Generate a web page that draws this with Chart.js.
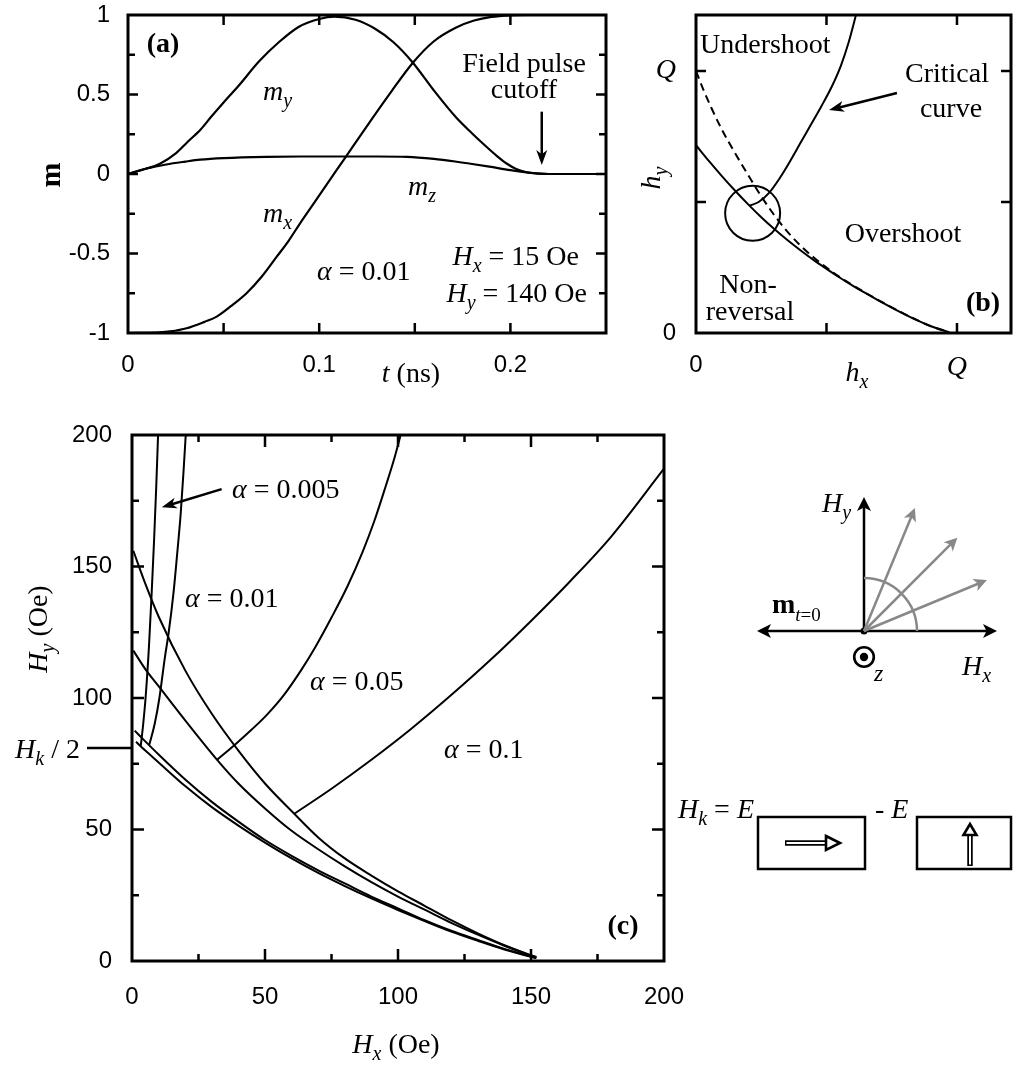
<!DOCTYPE html>
<html><head><meta charset="utf-8">
<script src="https://cdn.jsdelivr.net/npm/chart.js@4.4.1/dist/chart.umd.min.js"></script>
<style>
html,body{margin:0;padding:0;background:#fff;}
#wrap{position:relative;width:1013px;height:1066px;overflow:hidden;background:#fff;}
canvas{position:absolute;}
svg{position:absolute;left:0;top:0;}
</style></head><body>
<div id="wrap">
<canvas id="ca" width="612" height="400" style="left:0;top:0"></canvas>
<canvas id="cb" width="401" height="400" style="left:612px;top:0"></canvas>
<canvas id="cc" width="700" height="656" style="left:0;top:410px"></canvas>
<svg width="1013" height="1066" viewBox="0 0 1013 1066">
  <g stroke="#000" stroke-width="2.5" fill="none">
    <line x1="762" y1="631" x2="992" y2="631"/>
    <line x1="864" y1="631" x2="864" y2="502"/>
  </g>
  <g fill="#000">
    <polygon points="997,631 983,624 986.5,631 983,638"/>
    <polygon points="757,631 771,624 767.5,631 771,638"/>
    <polygon points="864,497 857,511 864,507.5 871,511"/>
    <circle cx="864" cy="631" r="3.5"/>
    <circle cx="864" cy="657" r="4.2"/>
  </g>
  <circle cx="864" cy="657" r="9.8" stroke="#000" stroke-width="2.6" fill="none"/>
  <g stroke="#888" stroke-width="2.5" fill="none">
    <path d="M 864 578 A 53 53 0 0 1 917 631"/>
  </g>
  <g transform="translate(864,631) rotate(-67.5)">
    <line x1="0" y1="0" x2="128" y2="0" stroke="#888" stroke-width="2.5"/>
    <polygon points="133,0 120,-6.5 123.5,0 120,6.5" fill="#888"/>
  </g>
  <g transform="translate(864,631) rotate(-45)">
    <line x1="0" y1="0" x2="127" y2="0" stroke="#888" stroke-width="2.5"/>
    <polygon points="132,0 119,-6.5 122.5,0 119,6.5" fill="#888"/>
  </g>
  <g transform="translate(864,631) rotate(-22.5)">
    <line x1="0" y1="0" x2="128" y2="0" stroke="#888" stroke-width="2.5"/>
    <polygon points="133,0 120,-6.5 123.5,0 120,6.5" fill="#888"/>
  </g>
  <g font-family="Liberation Serif" fill="#000">
    <text x="822" y="512" font-size="28" font-style="italic">H<tspan font-size="20" dy="7">y</tspan></text>
    <text x="772" y="613" font-size="28" font-weight="bold">m<tspan font-size="19" font-weight="normal" dy="8" font-style="italic">t</tspan><tspan font-size="19" font-weight="normal">=0</tspan></text>
    <text x="962" y="675" font-size="28" font-style="italic">H<tspan font-size="20" dy="7">x</tspan></text>
    <text x="874" y="681" font-size="24" font-style="italic">z</text>
    <text x="754" y="818" font-size="28" text-anchor="end"><tspan font-style="italic">H</tspan><tspan font-style="italic" font-size="20" dy="7">k</tspan><tspan dy="-7"> = </tspan><tspan font-style="italic">E</tspan></text>
    <text x="875" y="818" font-size="28">- <tspan font-style="italic">E</tspan></text>
  </g>
  <g stroke="#000" stroke-width="2.5" fill="none">
    <rect x="758" y="817" width="107" height="52"/>
    <rect x="917" y="817" width="94" height="52"/>
  </g>
  <line x1="785" y1="843" x2="827" y2="843" stroke="#000" stroke-width="5.5"/>
  <line x1="786.5" y1="843" x2="828" y2="843" stroke="#fff" stroke-width="2"/>
  <polygon points="826,836 840,843 826,850" fill="#fff" stroke="#000" stroke-width="2.6"/>
  <line x1="970" y1="866" x2="970" y2="834" stroke="#000" stroke-width="5.5"/>
  <line x1="970" y1="864.5" x2="970" y2="833" stroke="#fff" stroke-width="2"/>
  <polygon points="963.5,835 970,824 976.5,835" fill="#fff" stroke="#000" stroke-width="2.6"/>
</svg>
</div>
<script>
// ================= DATA =================
// Panel (a): magnetisation components vs time t (ns)
const aTimeX = [0,0.015,0.022,0.0307,0.04,0.0464,0.054,0.062,0.07,0.0778,0.084,0.09,0.096,0.102,0.108,0.114,0.1266,0.1378,0.149,0.16,0.1714,0.181,0.19,0.2,0.21,0.25];
const aMx    = [-1,-0.998,-0.99,-0.97,-0.93,-0.897,-0.83,-0.75,-0.645,-0.52,-0.42,-0.31,-0.205,-0.1,0.005,0.11,0.33,0.52,0.70,0.835,0.92,0.965,0.988,0.998,1,1];
const aTimeY = [0,0.008,0.0167,0.025,0.031,0.038,0.0435,0.05,0.0575,0.0687,0.079,0.0892,0.1,0.108,0.119,0.129,0.1387,0.149,0.16,0.172,0.18,0.1876,0.193,0.198,0.203,0.2085,0.215,0.22,0.25];
const aMy    = [0,0.028,0.065,0.13,0.2,0.28,0.36,0.45,0.55,0.71,0.83,0.925,0.975,0.99,0.97,0.915,0.83,0.70,0.525,0.35,0.255,0.17,0.113,0.066,0.032,0.011,0.002,0,0];
const aTimeZ = [0,0.01,0.02,0.03,0.0377,0.05,0.0725,0.09,0.114,0.13,0.146,0.16,0.172,0.18,0.189,0.2,0.2085,0.215,0.22,0.25];
const aMz    = [0,0.035,0.06,0.078,0.09,0.1,0.108,0.11,0.11,0.11,0.108,0.095,0.077,0.063,0.046,0.024,0.01,0.002,0,0];
const aXTickLabels = [0, 0.1, 0.2];
const aYTickLabels = [-1, -0.5, 0, 0.5, 1];
const aCutoffT = 0.2164;

// Panel (b): reduced fields h (units of Q)
const bSolidX = [0,0.05,0.1,0.15,0.2,0.25,0.3,0.35,0.4,0.45,0.5,0.55,0.6,0.65,0.7,0.75,0.8,0.85,0.9,0.97];
const bSolidY = [0.717,0.656,0.598,0.543,0.491,0.442,0.397,0.355,0.316,0.279,0.245,0.212,0.181,0.152,0.124,0.097,0.071,0.047,0.026,0.003];
const bDashX  = [0,0.03,0.06,0.1,0.15,0.2,0.25,0.3,0.35,0.4,0.45,0.5,0.55,0.6,0.65,0.7,0.75,0.8,0.85,0.9,0.97];
const bDashY  = [1.0,0.925,0.857,0.775,0.686,0.603,0.522,0.45,0.387,0.334,0.289,0.25,0.214,0.183,0.153,0.125,0.098,0.072,0.048,0.026,0.003];
const bCritX  = [0.205,0.24,0.28,0.32,0.36,0.4,0.44,0.48,0.52,0.555,0.585,0.612];
const bCritY  = [0.486,0.5,0.535,0.59,0.655,0.725,0.795,0.865,0.94,1.02,1.11,1.21];
const bTickValues = [0, 1];
const bTickLabels = ['0', 'Q'];
const bCirclePt = [0.217, 0.457];

// Panel (c): switching boundaries, Hx / Hy in Oe
const cAlphas = ['0.005', '0.01', '0.05', '0.1'];
const cLow005X = [1.5,5,10,20,30,40,50,60,70,80,90,100,110,120,130,140,150,152];
const cLow005Y = [83.4,80,75.5,66.5,58.5,51.5,45,39,33.5,28.5,23.8,19.4,15.2,11.2,7.7,4.4,1.6,1.1];
const cLow01X  = [1,5,10,20,30,40,50,60,70,80,90,100,110,120,130,140,150,152];
const cLow01Y  = [87.6,83.5,78.5,69,60.5,53,46,40,34.5,29.5,24.5,20,15.5,11.5,8,4.6,1.7,1.2];
const cLow05X  = [0.5,5,10,20,32,40,50,60,70,80,90,100,110,120,130,140,150,152];
const cLow05Y  = [118,111,104.5,91.5,76.5,67.5,58,49.5,42.5,36,30,24.5,19.5,14.5,10,5.8,2,1.4];
const cLow1X   = [0.5,5,10,20,30,40,50,61,70,80,90,100,110,120,130,140,150,152];
const cLow1Y   = [156,143.5,131,110.5,94,80,67.5,56,47,39,32.5,26.5,21,15.5,10.5,6,2.2,1.5];
const cCrit005X = [3.3,4.2,5.1,6.4,7.4,8.3,9.1,9.8];
const cCrit005Y = [81.8,90,100,120,140,160,180,200];
const cCrit01X  = [6.5,8.5,10.3,12.3,13.8,15.6,17,18.3,19.3,20.2];
const cCrit01Y  = [82.2,90,100,115,125,140,155,170,185,200];
const cCrit05X  = [32,39,45,50.6,57,63.6,69,75,81,86.7,91,95.4,98.3,101];
const cCrit05Y  = [76.5,82.5,88,93.5,101,110.6,119.5,130.6,142.5,155.6,167,180.6,190,200];
const cCrit1X   = [61,75,90,105,120,135,150,165,180,200];
const cCrit1Y   = [56,65.5,76.5,88.3,101.1,114.7,129.3,144.7,161.2,187.2];
const cTickLabels = [0, 50, 100, 150, 200];
const cHkHalf = 81;

// ================= HELPERS =================
const SANS = 'Liberation Sans', SERIF = 'Liberation Serif';
const FS = 28, FSUB = 20;
const IT = `italic ${FS}px "${SERIF}"`, RM = `${FS}px "${SERIF}"`, BD = `bold ${FS}px "${SERIF}"`, ITS = `italic ${FSUB}px "${SERIF}"`;
const tickFont = {family: SANS, size: 24};

function ds(xs, ys, extra) {
  return Object.assign({
    data: xs.map((x, i) => ({x: x, y: ys[i]})),
    showLine: true, borderColor: '#000', backgroundColor: '#000', borderWidth: 2.2,
    pointRadius: 0, pointHoverRadius: 0, fill: false, cubicInterpolationMode: 'monotone'
  }, extra || {});
}
function axis(min, max, vals, padding, fit, font, cb) {
  return {
    type: 'linear', min: min, max: max,
    grid: {display: false, drawTicks: false}, border: {display: false},
    ticks: {color: '#000', font: font || tickFont, padding: padding, maxRotation: 0, autoSkip: false,
            callback: cb || (v => String(v))},
    afterBuildTicks: s => { s.ticks = vals.map(v => ({value: v})); },
    afterFit: s => {
      if (s.isHorizontal()) { s.height = fit; s.paddingLeft = 0; s.paddingRight = 0; }
      else { s.width = fit; s.paddingTop = 0; s.paddingBottom = 0; }
    }
  };
}
function txt(ctx, parts, x, y, align, rot) {
  ctx.save();
  ctx.translate(x, y);
  if (rot) ctx.rotate(rot);
  ctx.textBaseline = 'alphabetic'; ctx.fillStyle = '#000'; ctx.textAlign = 'left';
  let w = 0;
  for (const p of parts) { ctx.font = p[1]; w += ctx.measureText(p[0]).width; }
  let cx = align === 'left' ? 0 : align === 'right' ? -w : -w / 2;
  for (const p of parts) { ctx.font = p[1]; ctx.fillText(p[0], cx, p[2] || 0); cx += ctx.measureText(p[0]).width; }
  ctx.restore();
}
function arrow(ctx, x1, y1, x2, y2, hl, hw) {
  hl = hl || 15; hw = hw || 5.5;
  const a = Math.atan2(y2 - y1, x2 - x1), c = Math.cos(a), s = Math.sin(a);
  ctx.save(); ctx.strokeStyle = '#000'; ctx.fillStyle = '#000'; ctx.lineWidth = 2.5;
  ctx.beginPath(); ctx.moveTo(x1, y1); ctx.lineTo(x2 - c * hl * 0.7, y2 - s * hl * 0.7); ctx.stroke();
  ctx.beginPath(); ctx.moveTo(x2, y2);
  ctx.lineTo(x2 - hl * c + hw * s, y2 - hl * s - hw * c);
  ctx.lineTo(x2 - hl * 0.72 * c, y2 - hl * 0.72 * s);
  ctx.lineTo(x2 - hl * c - hw * s, y2 - hl * s + hw * c);
  ctx.closePath(); ctx.fill();
  ctx.restore();
}
function frameTicks(chart, xt, yt) {
  const {ctx, chartArea: a, scales: {x, y}} = chart;
  ctx.save(); ctx.strokeStyle = '#000'; ctx.lineWidth = 2.5; ctx.lineCap = 'butt';
  ctx.beginPath();
  for (const t of xt) { const p = x.getPixelForValue(t[0]);
    ctx.moveTo(p, a.bottom); ctx.lineTo(p, a.bottom - t[1]); ctx.moveTo(p, a.top); ctx.lineTo(p, a.top + t[1]); }
  for (const t of yt) { const p = y.getPixelForValue(t[0]);
    ctx.moveTo(a.left, p); ctx.lineTo(a.left + t[1], p); ctx.moveTo(a.right, p); ctx.lineTo(a.right - t[1], p); }
  ctx.stroke();
  ctx.lineWidth = 3; ctx.strokeRect(a.left, a.top, a.right - a.left, a.bottom - a.top);
  ctx.restore();
}
const baseOpts = {responsive: false, animation: false, devicePixelRatio: 1, events: [],
  plugins: {legend: {display: false}, tooltip: {enabled: false}}};

// ================= PANEL (a) =================
new Chart(document.getElementById('ca'), {
  type: 'scatter',
  data: {datasets: [ds(aTimeX, aMx), ds(aTimeY, aMy), ds(aTimeZ, aMz)]},
  options: Object.assign({}, baseOpts, {
    layout: {autoPadding: false, padding: {left: 0, top: 15, right: 6, bottom: 0}},
    scales: {x: axis(0, 0.25, aXTickLabels, 18, 67), y: axis(-1, 1, aYTickLabels, 18, 128)}
  }),
  plugins: [{id: 'pa', afterDatasetsDraw(chart) {
    const ctx = chart.ctx, {x, y} = chart.scales;
    const xt = [0.05, 0.1, 0.15, 0.2].map(v => [v, 10]);
    const yt = [-0.75, -0.5, -0.25, 0, 0.25, 0.5, 0.75].map(v => [v, Math.abs(v * 2 - Math.round(v * 2)) < 1e-6 ? 10 : 7]);
    frameTicks(chart, xt, yt);
    txt(ctx, [['(a)', BD]], 163, 52, 'center');
    txt(ctx, [['m', IT], ['y', ITS, 7]], 263, 100, 'left');
    txt(ctx, [['m', IT], ['x', ITS, 7]], 263, 222, 'left');
    txt(ctx, [['m', IT], ['z', ITS, 7]], 408, 195, 'left');
    txt(ctx, [['\u03B1', IT], [' = 0.01', RM]], 317, 280, 'left');
    txt(ctx, [['H', IT], ['x', ITS, 7], [' = 15 Oe', RM]], 579, 265, 'right');
    txt(ctx, [['H', IT], ['y', ITS, 7], [' = 140 Oe', RM]], 587, 302, 'right');
    txt(ctx, [['Field pulse', RM]], 524, 72, 'center');
    txt(ctx, [['cutoff', RM]], 524, 98, 'center');
    arrow(ctx, x.getPixelForValue(aCutoffT), y.getPixelForValue(0.392), x.getPixelForValue(aCutoffT), y.getPixelForValue(0.057));
    txt(ctx, [['m', `bold 30px "${SERIF}"`]], 60, 175, 'center', -Math.PI / 2);
    txt(ctx, [['t', IT], [' (ns)', RM]], 411, 382, 'center');
  }}]
});

// ================= PANEL (b) =================
const bOX = 612;
const qFont = c => (c.tick && c.tick.value === 1) ? {family: SERIF, style: 'italic', size: 28} : {family: SANS, size: 24};
new Chart(document.getElementById('cb'), {
  type: 'scatter',
  data: {datasets: [ds(bSolidX, bSolidY, {borderWidth: 2}), ds(bDashX, bDashY, {borderWidth: 2, borderDash: [8, 5]}), ds(bCritX, bCritY, {borderWidth: 2})]},
  options: Object.assign({}, baseOpts, {
    layout: {autoPadding: false, padding: {left: 0, top: 15, right: 2, bottom: 0}},
    scales: {
      x: axis(0, 1.207, bTickValues, 18, 67, qFont, v => bTickLabels[bTickValues.indexOf(v)]),
      y: axis(0, 1.214, bTickValues, 20, 84, qFont, v => bTickLabels[bTickValues.indexOf(v)])
    }
  }),
  plugins: [{id: 'pb', afterDatasetsDraw(chart) {
    const ctx = chart.ctx, {x, y} = chart.scales, o = bOX;
    frameTicks(chart, [[0.5, 10], [1, 10]], [[0.5, 10], [1, 10]]);
    ctx.save(); ctx.strokeStyle = '#000'; ctx.lineWidth = 2;
    ctx.beginPath(); ctx.arc(x.getPixelForValue(bCirclePt[0]), y.getPixelForValue(bCirclePt[1]), 27.5, 0, Math.PI * 2); ctx.stroke();
    ctx.restore();
    txt(ctx, [['Undershoot', RM]], 700 - o, 53, 'left');
    txt(ctx, [['Critical', RM]], 947 - o, 82, 'center');
    txt(ctx, [['curve', RM]], 951 - o, 117, 'center');
    txt(ctx, [['Overshoot', RM]], 903 - o, 242, 'center');
    txt(ctx, [['Non-', RM]], 748 - o, 293, 'center');
    txt(ctx, [['reversal', RM]], 750 - o, 320, 'center');
    txt(ctx, [['(b)', BD]], 983 - o, 311, 'center');
    arrow(ctx, x.getPixelForValue(0.77), y.getPixelForValue(0.916), x.getPixelForValue(0.51), y.getPixelForValue(0.851));
    txt(ctx, [['h', IT], ['y', ITS, 7]], 660 - o, 178, 'center', -Math.PI / 2);
    txt(ctx, [['h', IT], ['x', ITS, 7]], 857 - o, 381, 'center');
  }}]
});

// ================= PANEL (c) =================
const cOY = 410;
new Chart(document.getElementById('cc'), {
  type: 'scatter',
  data: {datasets: [
    ds(cLow005X, cLow005Y, {borderWidth: 2}), ds(cLow01X, cLow01Y, {borderWidth: 2}),
    ds(cLow05X, cLow05Y, {borderWidth: 2}), ds(cLow1X, cLow1Y, {borderWidth: 2}),
    ds(cCrit005X, cCrit005Y, {borderWidth: 2}), ds(cCrit01X, cCrit01Y, {borderWidth: 2}),
    ds(cCrit05X, cCrit05Y, {borderWidth: 2}), ds(cCrit1X, cCrit1Y, {borderWidth: 2})
  ]},
  options: Object.assign({}, baseOpts, {
    layout: {autoPadding: false, padding: {left: 0, top: 25, right: 36, bottom: 0}},
    scales: {x: axis(0, 200, cTickLabels, 22, 105), y: axis(0, 200, cTickLabels, 20, 132)}
  }),
  plugins: [{id: 'pc', afterDatasetsDraw(chart) {
    const ctx = chart.ctx, {x, y} = chart.scales, o = cOY;
    const tk = [25, 50, 75, 100, 125, 150, 175].map(v => [v, v % 50 === 0 ? 12 : 7]);
    frameTicks(chart, tk, tk);
    txt(ctx, [['\u03B1', IT], [' = ' + cAlphas[0], RM]], 232, 498 - o, 'left');
    txt(ctx, [['\u03B1', IT], [' = ' + cAlphas[1], RM]], 185, 607 - o, 'left');
    txt(ctx, [['\u03B1', IT], [' = ' + cAlphas[2], RM]], 310, 690 - o, 'left');
    txt(ctx, [['\u03B1', IT], [' = ' + cAlphas[3], RM]], 444, 758 - o, 'left');
    arrow(ctx, x.getPixelForValue(33.7), y.getPixelForValue(179.4), x.getPixelForValue(11.2), y.getPixelForValue(172.5));
    txt(ctx, [['(c)', BD]], 623, 934 - o, 'center');
    const hy = y.getPixelForValue(cHkHalf);
    ctx.save(); ctx.strokeStyle = '#000'; ctx.lineWidth = 2.5;
    ctx.beginPath(); ctx.moveTo(87, hy); ctx.lineTo(chart.chartArea.left, hy); ctx.stroke(); ctx.restore();
    txt(ctx, [['H', IT], ['k', ITS, 7], [' / 2', RM]], 80, hy + 10, 'right');
    txt(ctx, [['H', IT], ['y', ITS, 7], [' (Oe)', RM]], 47, 629 - o, 'center', -Math.PI / 2);
    txt(ctx, [['H', IT], ['x', ITS, 7], [' (Oe)', RM]], 396, 1053 - o, 'center');
  }}]
});
</script>
</body></html>
